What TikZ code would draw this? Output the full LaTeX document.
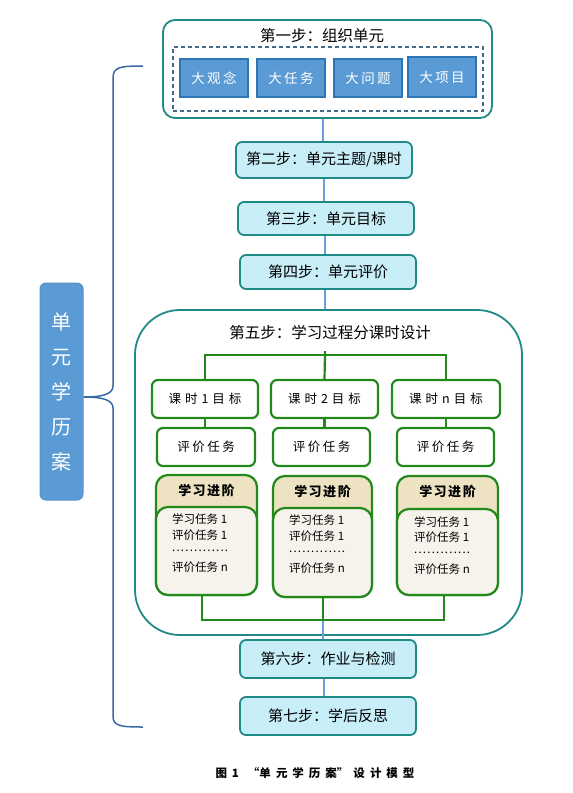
\documentclass[tikz,border=0pt]{standalone}
\usepackage{fontspec}
\setmainfont{Noto Sans CJK SC}
\definecolor{tealc}{HTML}{1F8A86}
\definecolor{stepfill}{HTML}{C8EEF8}
\definecolor{bluefill}{HTML}{5B9BD5}
\definecolor{bluedark}{HTML}{2E75B6}
\definecolor{dashc}{HTML}{44698F}
\definecolor{greenc}{HTML}{22891A}
\definecolor{lineblue}{HTML}{6A9EE0}
\definecolor{bracec}{HTML}{3A6AA5}
\definecolor{tanfill}{HTML}{EDE3C2}
\definecolor{bodyfill}{HTML}{F6F2EC}
\newcommand{\lsp}{\hspace{2.5pt}}
\newcommand{\gsp}{\hspace{4pt}}
\newcommand{\csp}{\hspace{5pt}}
\newcommand{\dotrow}{.\kern1.2pt.\kern1.2pt.\kern1.2pt.\kern1.2pt.\kern1.2pt.\kern1.2pt.\kern1.2pt.\kern1.2pt.\kern1.2pt.\kern1.2pt.\kern1.2pt.\kern1.2pt.}
\begin{document}
\begin{tikzpicture}[x=1pt,y=1pt,
  stepbox/.style={draw=tealc, line width=1.8pt, fill=stepfill, rounded corners=6pt,
    minimum width=176pt, minimum height=35pt, inner sep=0pt, font=\fontsize{15}{18}\selectfont},
  bluebox/.style={draw=bluedark, line width=1.2pt, fill=bluefill, text=white,
    minimum width=68pt, minimum height=38pt, inner sep=0pt, font=\fontsize{13.5}{15}\selectfont},
  gbox/.style={draw=greenc, line width=2.2pt, fill=white, rounded corners=6pt,
    minimum height=38pt, inner sep=0pt, font=\fontsize{12.5}{14}\selectfont},
  prog/.style={draw=greenc, line width=2.2pt, fill=tanfill, rounded corners=12pt,
    minimum width=101pt, minimum height=120pt, inner sep=0pt},
  progbody/.style={draw=greenc, line width=2.2pt, fill=bodyfill, rounded corners=12pt,
    minimum width=101pt, minimum height=88pt, inner sep=0pt},
  progtitle/.style={font=\fontsize{13}{15}\selectfont\bfseries},
  bodytext/.style={anchor=west, inner sep=0pt, font=\fontsize{11.5}{13}\selectfont},
  dottext/.style={anchor=base west, inner sep=0pt, font=\fontsize{11.5}{13}\selectfont},
  mainline/.style={draw=lineblue, line width=1.8pt},
  gline/.style={draw=greenc, line width=2.2pt},
  titletext/.style={font=\fontsize{15.5}{18}\selectfont}
]
\useasboundingbox (0,0) rectangle (573,-793);

% step 1
\node[draw=tealc, line width=1.8pt, fill=white, rounded corners=12pt, minimum width=329pt, minimum height=98pt] (s1) at (327.5,-69) {};
\node[titletext] (s1t) at (322,-36) {第一步：组织单元};
\node[draw=dashc, dashed, dash pattern=on 4pt off 3pt, line width=1.2pt, minimum width=310pt, minimum height=64pt] (dash) at (328,-79) {};
\node[bluebox] (b1) at (214,-78) {大\lsp 观\lsp 念};
\node[bluebox] (b2) at (291,-78) {大\lsp 任\lsp 务};
\node[bluebox] (b3) at (368,-78) {大\lsp 问\lsp 题};
\node[bluebox, minimum height=40pt] (b4) at (442,-77) {大\lsp 项\lsp 目};

% steps 2-4
\node[stepbox, minimum height=36pt] (s2) at (324,-160) {第二步：单元主题/课时};
\node[stepbox, minimum height=33pt] (s3) at (326,-218.5) {第三步：单元目标};
\node[stepbox, minimum height=34pt] (s4) at (328,-272) {第四步：单元评价};

% step 5
\node[draw=tealc, line width=1.8pt, fill=white, rounded corners=45pt, minimum width=387pt, minimum height=325pt] (s5) at (328.5,-472.5) {};
\node[titletext] (s5t) at (330,-333) {第五步：学习过程分课时设计};

% goal boxes
\node[gbox, minimum width=106pt] (g1) at (205,-399) {课\gsp 时\gsp 1\gsp 目\gsp 标};
\node[gbox, minimum width=107pt] (g2) at (324.5,-399) {课\gsp 时\gsp 2\gsp 目\gsp 标};
\node[gbox, minimum width=108pt] (g3) at (446,-399) {课\gsp 时\gsp n\gsp 目\gsp 标};

% eval boxes
\node[gbox, minimum width=98pt] (e1) at (206,-447) {评\lsp 价\lsp 任\lsp 务};
\node[gbox, minimum width=97pt] (e2) at (321.5,-447) {评\lsp 价\lsp 任\lsp 务};
\node[gbox, minimum width=97pt] (e3) at (445.5,-447) {评\lsp 价\lsp 任\lsp 务};

% progression boxes
\node[prog] (p1) at (206.5,-535) {};
\node[progbody] (q1) at (206.5,-551) {};
\node[progtitle] (p1t) at (206.5,-491) {学\hspace{1.5pt}习\hspace{1.5pt}进\hspace{1.5pt}阶};
\node[prog, minimum width=99pt, minimum height=121pt] (p2) at (322.5,-536.5) {};
\node[progbody, minimum width=99pt, minimum height=89pt] (q2) at (322.5,-552.5) {};
\node[progtitle] (p2t) at (322.5,-492) {学\hspace{1.5pt}习\hspace{1.5pt}进\hspace{1.5pt}阶};
\node[prog, minimum height=119pt] (p3) at (447.5,-535.5) {};
\node[progbody, minimum height=86pt] (q3) at (447.5,-552) {};
\node[progtitle] (p3t) at (447.5,-492) {学\hspace{1.5pt}习\hspace{1.5pt}进\hspace{1.5pt}阶};

\node[bodytext] (t11) at (172,-519) {学习任务 1};
\node[bodytext] (t12) at (172,-535) {评价任务 1};
\node[dottext] (t13) at (172,-551) {\dotrow};
\node[bodytext] (t14) at (172,-567) {评价任务 n};
\node[bodytext] (t21) at (289,-520) {学习任务 1};
\node[bodytext] (t22) at (289,-536) {评价任务 1};
\node[dottext] (t23) at (289,-552) {\dotrow};
\node[bodytext] (t24) at (289,-568) {评价任务 n};
\node[bodytext] (t31) at (414,-522) {学习任务 1};
\node[bodytext] (t32) at (414,-537) {评价任务 1};
\node[dottext] (t33) at (414,-553) {\dotrow};
\node[bodytext] (t34) at (414,-569) {评价任务 n};

% green tree
\coordinate (gtop) at (325,-355);
\coordinate (gstub) at (325,-351);
\coordinate (gbot) at (323,-620);
\draw[gline] (g1.north) |- (gtop) -| (g3.north);
\draw[gline] (gstub) -- (gtop) -- (g2.north);
\draw[gline] (g1.south) -- (e1.north -| g1.south);
\draw[gline] (g2.south) -- (e2.north -| g2.south);
\draw[gline] (g3.south) -- (e3.north -| g3.south);
\draw[gline] (q1.south -| 202,0) |- (gbot) -| (q3.south -| 444,0);
\draw[gline] (q2.south -| gbot) -- (gbot);

% steps 6-7
\node[stepbox, minimum height=38pt] (s6) at (328,-659) {第六步：作业与检测};
\node[stepbox, minimum height=38pt] (s7) at (328,-716) {第七步：学后反思};

% main blue line
\draw[mainline] (s1.south -| 323,0) -- (s2.north -| 323,0);
\draw[mainline] (s2.south -| 324,0) -- (s3.north -| 324,0);
\draw[mainline] (s3.south -| 325,0) -- (s4.north -| 325,0);
\draw[mainline] (s4.south -| 325,0) -- (s5.north -| 325,0);
\draw[mainline] (gbot) ++(0,-1.1) -- (s6.north -| gbot);
\draw[mainline] (s6.south -| 324,0) -- (s7.north -| 324,0);

% left label
\node[draw=bluedark!80, line width=1pt, fill=bluefill, rounded corners=6pt, minimum width=43pt, minimum height=217pt, text=white, align=center, font=\fontsize{20}{35}\selectfont] (lab) at (61.5,-391.5) {单\\元\\学\\历\\案};

% brace
\coordinate (bt) at (143,-66);
\coordinate (bb) at (143,-727);
\draw[draw=bracec, line width=1.5pt] (bt) .. controls (120,-66) and (113,-67) .. (113,-78)
  -- (113,-386) .. controls (113,-395) and (100,-397) .. (lab.east |- 0,-397)
  .. controls (100,-397) and (113,-399) .. (113,-408)
  -- (113,-716) .. controls (113,-726) and (120,-727) .. (bb);

% caption
\node[font=\fontsize{11.5}{13}\selectfont\bfseries] (cap) at (315,-773) {图\csp 1\hspace{9pt}“单\csp 元\csp 学\csp 历\csp 案”\csp 设\csp 计\csp 模\csp 型};
\end{tikzpicture}
\end{document}
